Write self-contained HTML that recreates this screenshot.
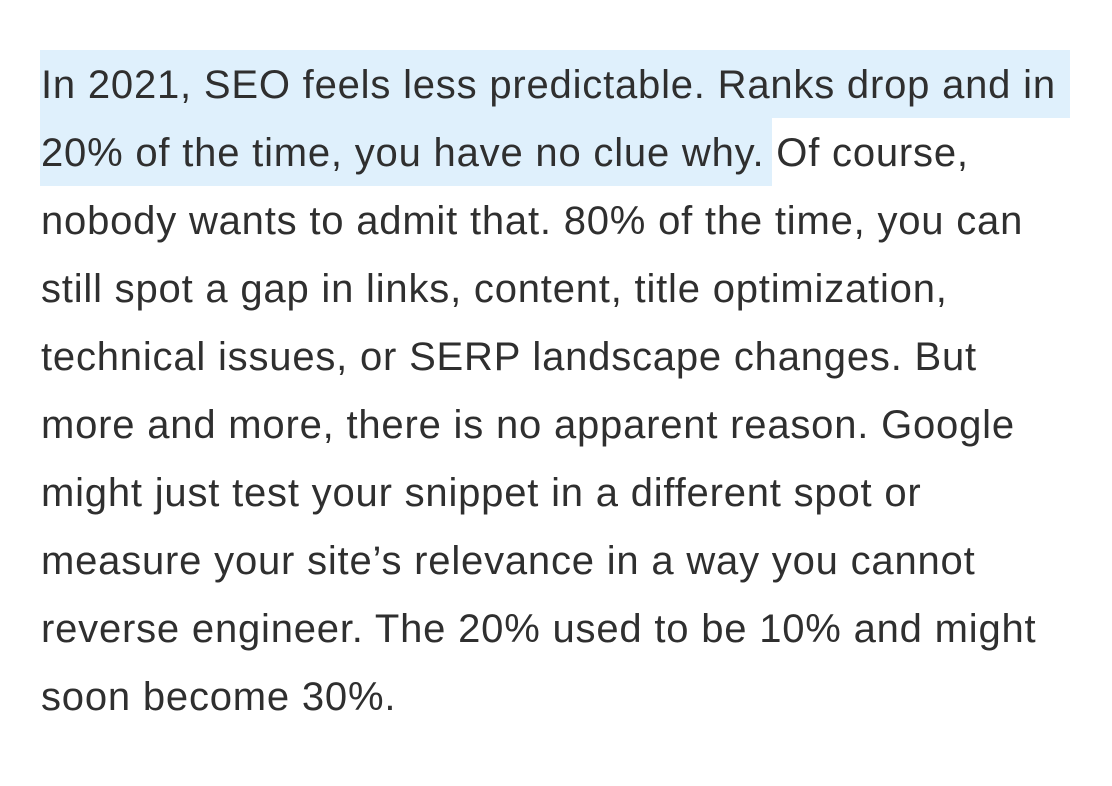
<!DOCTYPE html>
<html><head><meta charset="utf-8">
<style>
html,body{margin:0;padding:0;background:#fff;}
body{width:1112px;height:786px;position:relative;overflow:hidden;}
.hl{position:absolute;background:#dff0fc;}
.txt{position:absolute;left:41px;top:51px;font-family:"Liberation Sans",sans-serif;font-size:40px;letter-spacing:0.8px;line-height:68px;color:#2f2f2f;white-space:nowrap;}
.txt div{height:68px;}
</style></head>
<body>
<div class="hl" style="left:40px;top:50px;width:1030px;height:68px;"></div>
<div class="hl" style="left:40px;top:118px;width:732px;height:68px;"></div>
<div class="txt">
<div>In 2021, SEO feels less predictable. Ranks drop and in</div>
<div>20% of the time, you have no clue why. Of course,</div>
<div>nobody wants to admit that. 80% of the time, you can</div>
<div>still spot a gap in links, content, title optimization,</div>
<div>technical issues, or SERP landscape changes. But</div>
<div>more and more, there is no apparent reason. Google</div>
<div>might just test your snippet in a different spot or</div>
<div>measure your site’s relevance in a way you cannot</div>
<div>reverse engineer. The 20% used to be 10% and might</div>
<div>soon become 30%.</div>
</div>
</body></html>
